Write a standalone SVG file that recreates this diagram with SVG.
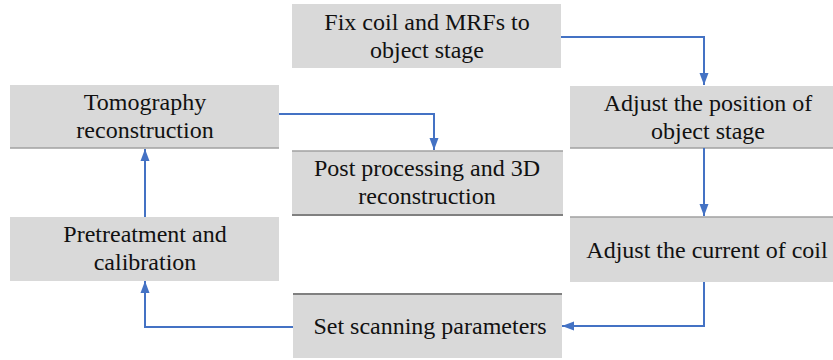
<svg xmlns="http://www.w3.org/2000/svg" width="833" height="360" viewBox="0 0 833 360">
<style>
.box{fill:#d9d9d9}
.edge{stroke:#a0a0a0;stroke-width:1.5;fill:none}
.dark{stroke:#808080;stroke-width:2;fill:none}
text{font-family:'Liberation Serif','DejaVu Serif',serif;font-size:24px;fill:#111;text-anchor:middle}
.c{fill:none;stroke:#4472c4;stroke-width:2;marker-end:url(#ah)}
</style>
<defs>
<marker id="ah" markerUnits="userSpaceOnUse" markerWidth="12" markerHeight="16" refX="16" refY="6" orient="auto" viewBox="0 0 16 12">
<path d="M0,0 L16,6 L0,12 z" fill="#4472c4"/>
</marker>
</defs>
<rect width="833" height="360" fill="#fff"/>
<g id="n1">
<rect class="box" x="292" y="4" width="269" height="64"/>
<text x="427" y="30">Fix coil and MRFs to</text>
<text x="427" y="58">object stage</text>
</g>
<g id="n2">
<rect class="box" x="570" y="86" width="263" height="62"/>
<line class="edge" x1="570" y1="148" x2="833" y2="148"/>
<text x="708" y="111">Adjust the position of</text>
<text x="708" y="139">object stage</text>
</g>
<g id="n3">
<rect class="box" x="10" y="85" width="269" height="63"/>
<line class="edge" x1="10" y1="148" x2="279" y2="148"/>
<text x="145" y="110">Tomography</text>
<text x="145" y="138">reconstruction</text>
</g>
<g id="n4">
<rect class="box" x="292" y="151" width="271" height="64"/>
<line class="edge" x1="292" y1="151" x2="563" y2="151"/>
<line class="dark" x1="292" y1="215" x2="563" y2="215"/>
<text x="427" y="176">Post processing and 3D</text>
<text x="427" y="204">reconstruction</text>
</g>
<g id="n5">
<rect class="box" x="10" y="217" width="269" height="64"/>
<text x="145" y="242">Pretreatment and</text>
<text x="145" y="270">calibration</text>
</g>
<g id="n6">
<rect class="box" x="570" y="217" width="263" height="65"/>
<line class="edge" x1="570" y1="217" x2="833" y2="217"/>
<text x="707" y="258">Adjust the current of coil</text>
</g>
<g id="n7">
<rect class="box" x="293" y="294" width="269" height="64"/>
<line class="dark" x1="293" y1="294" x2="562" y2="294"/>
<text x="430" y="334">Set scanning parameters</text>
</g>
<g id="connectors">
<path class="c" d="M561,37 H704 V85"/>
<path class="c" d="M704,148 V216"/>
<path class="c" d="M704,282 V326 H562"/>
<path class="c" d="M293,327 H145 V281"/>
<path class="c" d="M145,217 V149"/>
<path class="c" d="M279,114 H434 V150"/>
</g>
</svg>
